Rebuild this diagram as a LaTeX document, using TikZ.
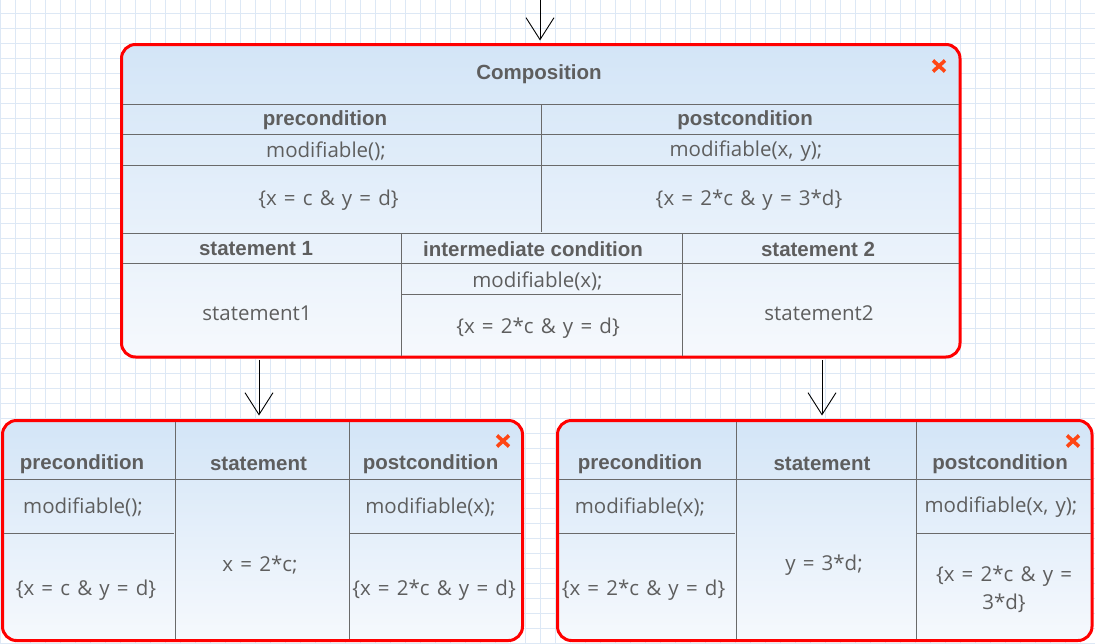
\documentclass[tikz,border=0pt]{standalone}
\usepackage{fontspec}
\setmainfont{Open Sans}[WordSpace=1.35]
\newfontfamily\hdfont{Liberation Sans}
\usetikzlibrary{arrows.meta,calc}
\definecolor{txt}{HTML}{5E5E5E}
\definecolor{gridc}{HTML}{DDE8F5}
\definecolor{topc}{HTML}{D3E5F7}
\definecolor{botc}{HTML}{F6F9FD}
\definecolor{redb}{HTML}{FF0000}
\definecolor{xcol}{HTML}{FF4614}
\definecolor{divc}{HTML}{6A6A6A}
\begin{document}
\begin{tikzpicture}[x=1pt,y=-1pt,
 hd/.style={font=\hdfont\bfseries\fontsize{20.5}{24}\selectfont, text=txt, inner sep=0},
 tx/.style={font=\fontsize{20.5}{28}\selectfont, text=txt, inner sep=0, align=center},
 box/.style={draw=redb, line width=3pt, rounded corners=14pt, top color=topc, bottom color=botc, inner sep=0},
 div/.style={draw=divc, line width=1pt},
 arr/.style={draw=black, line width=0.9pt, -{Straight Barb[length=22pt,width=28pt,line width=0.9pt]}},
 xm/.style={draw=xcol, line width=3.6pt},
]
\useasboundingbox (0,0) rectangle (1095,643);
\fill[white] (0,0) rectangle (1095,643);
\foreach \i in {0,15,...,1095} \draw[gridc, line width=1pt] (\i,0) -- (\i,643);
\foreach \j in {13,28,...,643} \draw[gridc, line width=1pt] (0,\j) -- (1095,\j);

% boxes
\node[box, minimum width=838.5pt, minimum height=312.5pt] (comp) at (540.75,200.75) {};
\node[box, minimum width=520pt, minimum height=220pt] (lbox) at (262.5,530.5) {};
\node[box, minimum width=534.5pt, minimum height=220pt] (rbox) at (824.75,530.5) {};

% main box dividers
\draw[div] (123,104) -- (959,104);
\draw[div] (123,134) -- (959,134);
\draw[div] (123,165) -- (959,165);
\draw[div] (541.5,104) -- (541.5,232);
\draw[div] (123,233) -- (959,233);
\draw[div] (123,263) -- (959,263);
\draw[div] (401.5,233) -- (401.5,356);
\draw[div] (682.5,233) -- (682.5,356);
\draw[div] (401.5,294) -- (680.5,294);

% left box dividers
\draw[div] (175.5,422) -- (175.5,639);
\draw[div] (349.5,422) -- (349.5,639);
\draw[div] (4,479) -- (521,479);
\draw[div] (4,533) -- (174,533);
\draw[div] (349.5,533) -- (521,533);

% right box dividers
\draw[div] (736.5,422) -- (736.5,639);
\draw[div] (916.5,422) -- (916.5,639);
\draw[div] (559,479) -- (1090.5,479);
\draw[div] (559,533) -- (735,533);
\draw[div] (916.5,533) -- (1090.5,533);

% main box texts
\node[hd] (title) at (539,74) {Composition};
\node[hd] (pre) at (325,120) {precondition};
\node[hd] (post) at (745,120) {postcondition};
\node[tx] (premod) at (326,151) {modifiable();};
\node[tx] (precond) at (328.5,200) {\{x = c \& y = d\}};
\node[tx] (postmod) at (746,151) {modifiable(x, y);};
\node[tx] (postcond) at (749,200) {\{x = 2*c \& y = 3*d\}};
\node[hd] (st1h) at (256,249) {statement 1};
\node[hd] (imh) at (533,249) {intermediate condition};
\node[hd] (st2h) at (818,249) {statement 2};
\node[tx] (st1) at (257,313) {statement1};
\node[tx] (immod) at (537.5,281) {modifiable(x);};
\node[tx] (imcond) at (538,328.5) {\{x = 2*c \& y = d\}};
\node[tx] (st2) at (819,313) {statement2};

% left box texts
\node[hd] (lpre) at (82,464) {precondition};
\node[hd] (lst) at (258.5,464) {statement};
\node[hd] (lpost) at (430.5,464) {postcondition};
\node[tx] (lpremod) at (83,507.5) {modifiable();};
\node[tx] (lstx) at (260,565) {x = 2*c;};
\node[tx] (lpostmod) at (430.5,507.5) {modifiable(x);};
\node[tx] (lprecond) at (86,590) {\{x = c \& y = d\}};
\node[tx] (lpostcond) at (434,590) {\{x = 2*c \& y = d\}};

% right box texts
\node[hd] (rpre) at (640,464) {precondition};
\node[hd] (rst) at (822,464) {statement};
\node[hd] (rpost) at (1000,464) {postcondition};
\node[tx] (rpremod) at (640,507.5) {modifiable(x);};
\node[tx] (rstx) at (824,565) {y = 3*d;};
\node[tx] (rpostmod) at (1001,507.5) {modifiable(x, y);};
\node[tx] (rprecond) at (643.5,590) {\{x = 2*c \& y = d\}};
\node[tx] (rpostcond) at (1004,589) {\{x = 2*c \& y =\\3*d\}};

% close marks
\coordinate (xa) at (939,66);
\coordinate (xb) at (503,441);
\coordinate (xc) at (1073,441);
\draw[xm] (xa) ++(-6,-5.5) -- ++(12,11);
\draw[xm] (xa) ++(6,-5.5) -- ++(-12,11);
\draw[xm] (xb) ++(-6,-5.5) -- ++(12,11);
\draw[xm] (xb) ++(6,-5.5) -- ++(-12,11);
\draw[xm] (xc) ++(-6,-5.5) -- ++(12,11);
\draw[xm] (xc) ++(6,-5.5) -- ++(-12,11);

% arrows
\coordinate (a0) at (540,0);
\coordinate (a1) at (259,0);
\coordinate (a2) at (822,0);
\draw[arr, shorten >=2.5pt] (a0) -- (a0 |- comp.north);
\draw[arr, shorten <=1.5pt, shorten >=3.5pt] (a1 |- comp.south) -- (a1 |- lbox.north);
\draw[arr, shorten <=1.5pt, shorten >=3.5pt] (a2 |- comp.south) -- (a2 |- rbox.north);
\end{tikzpicture}
\end{document}
